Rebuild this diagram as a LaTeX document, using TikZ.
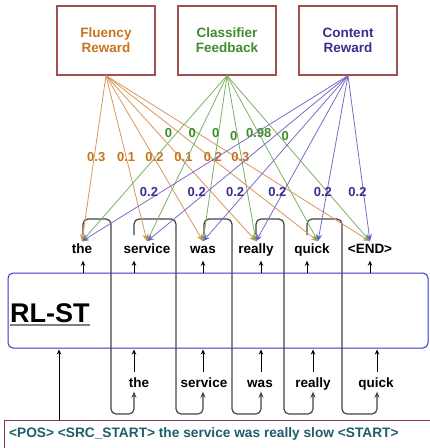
\documentclass[tikz,border=0pt]{standalone}
\usepackage{fontspec}
\setmainfont{Liberation Sans}
\usetikzlibrary{arrows.meta}

\definecolor{boxred}{HTML}{A0504F}
\definecolor{flcol}{HTML}{C8741E}
\definecolor{cfcol}{HTML}{3F8C2C}
\definecolor{crcol}{HTML}{3D2C8D}
\definecolor{flline}{HTML}{D8965A}
\definecolor{cfline}{HTML}{78B266}
\definecolor{crline}{HTML}{7A6CC6}
\definecolor{rlblue}{HTML}{3535D0}
\definecolor{inpcol}{HTML}{1F5C6C}
\definecolor{inpbox}{HTML}{8A3A5C}
\definecolor{loopgray}{HTML}{444444}

\tikzset{
  reward/.style={draw=boxred, line width=1.1pt, minimum width=98pt, minimum height=69pt,
    align=center, font=\bfseries\fontsize{13.5}{15}\selectfont},
  word/.style={font=\bfseries\fontsize{13.5}{15}\selectfont, inner sep=1.5pt,
    text height=10pt, text depth=3pt, anchor=base},
  wt/.style={font=\bfseries\fontsize{13}{15}\selectfont, inner sep=0pt},
  flarr/.style={draw=flline, line width=0.8pt, -{Stealth[length=7pt,width=6pt,fill=flcol]}},
  cfarr/.style={draw=cfline, line width=0.8pt, -{Stealth[length=7pt,width=6pt,fill=cfcol]}},
  crarr/.style={draw=crline, line width=0.8pt, -{Stealth[length=7pt,width=6pt,fill=crcol]}},
  loopline/.style={draw=loopgray, line width=1.2pt, rounded corners=5pt,
    -{Stealth[length=6pt,width=5pt]}},
  uparr/.style={line width=0.8pt, -{Stealth[length=5pt,width=4.5pt]}}
}

\begin{document}
\begin{tikzpicture}[x=1pt,y=-1pt]
\useasboundingbox (0,0) rectangle (430,448);

% reward boxes
\node[reward, text=flcol] (fl) at (106,40.5) {Fluency\\Reward};
\node[reward, text=cfcol] (cf) at (227,40.5) {Classifier\\Feedback};
\node[reward, text=crcol] (cr) at (348,40.5) {Content\\Reward};

% output words
\node[word] (o1) at (82,253) {the};
\node[word] (o2) at (147,253) {service};
\node[word] (o3) at (203,253) {was};
\node[word] (o4) at (256,253) {really};
\node[word] (o5) at (312,253) {quick};
\node[word] (o6) at (370,253) {<END>};

% model
\node[draw=rlblue, line width=1pt, rounded corners=5pt, minimum width=420pt,
  minimum height=75pt] (rlst) at (218,310.5) {};
\node[anchor=base west, inner sep=0pt, font=\bfseries\fontsize{27}{30}\selectfont]
  (rllabel) at (10,322) {RL-ST};
\draw[gray, line width=1.5pt] ([yshift=-2.5pt]rllabel.south west) -- ([yshift=-2.5pt]rllabel.south east);

% input words
\node[word] (i1) at (139,387) {the};
\node[word] (i2) at (204,387) {service};
\node[word] (i3) at (260,387) {was};
\node[word] (i4) at (313,387) {really};
\node[word] (i5) at (376,387) {quick};

% source input
\node[draw=inpbox, line width=1pt, minimum width=430pt, minimum height=32pt,
  anchor=north west] (inp) at (4,420) {};
\node[anchor=base west, inner sep=0pt, text=inpcol, font=\bfseries\fontsize{13.7}{15}\selectfont]
  (inptxt) at (9,437) {<POS> <SRC\_START> the service was really slow <START>};

% columns
\coordinate (u1) at (83,0);
\coordinate (u2) at (134,0);
\coordinate (u3) at (203,0);
\coordinate (u4) at (261,0);
\coordinate (u5) at (307,0);
\coordinate (u6) at (370,0);
\coordinate (b1) at (134,0);
\coordinate (b2) at (203,0);
\coordinate (b3) at (261,0);
\coordinate (b4) at (313,0);
\coordinate (b5) at (377,0);
\coordinate (l0) at (59,0);
\coordinate (s1) at (83,235);
\coordinate (s2) at (134,235);
\coordinate (s3) at (204,235);
\coordinate (s4) at (256,235);
\coordinate (s5) at (307,235);

% feedback loops
\draw[loopline] (s1) |- (111,219) -- (111,414) -| (i1.south -| b1);
\draw[loopline] (s2) |- (176,219) -- (176,414) -| (i2.south -| b2);
\draw[loopline] (s3) |- (232,219) -- (232,414) -| (i3.south -| b3);
\draw[loopline] (s4) |- (284,219) -- (284,414) -| (i4.south -| b4);
\draw[loopline] (s5) |- (342,219) -- (342,414) -| (i5.south -| b5);

% small arrows
\draw[uparr, shorten >=3pt] (rlst.north -| u1) -- (o1.south -| u1);
\draw[uparr, shorten >=3pt] (rlst.north -| u2) -- (o2.south -| u2);
\draw[uparr, shorten >=3pt] (rlst.north -| u3) -- (o3.south -| u3);
\draw[uparr, shorten >=3pt] (rlst.north -| u4) -- (o4.south -| u4);
\draw[uparr, shorten >=3pt] (rlst.north -| u5) -- (o5.south -| u5);
\draw[uparr, shorten >=3pt] (rlst.north -| u6) -- (o6.south -| u6);
\draw[uparr, shorten <=3pt, shorten >=1pt] (i1.north -| b1) -- (rlst.south -| b1);
\draw[uparr, shorten <=3pt, shorten >=1pt] (i2.north -| b2) -- (rlst.south -| b2);
\draw[uparr, shorten <=3pt, shorten >=1pt] (i3.north -| b3) -- (rlst.south -| b3);
\draw[uparr, shorten <=3pt, shorten >=1pt] (i4.north -| b4) -- (rlst.south -| b4);
\draw[uparr, shorten <=3pt, shorten >=1pt] (i5.north -| b5) -- (rlst.south -| b5);
\draw[uparr, shorten >=1pt] (inp.north -| l0) -- (rlst.south -| l0);

% fluency reward
\draw[flarr] (fl.south) -- node[wt, text=flcol, pos=0.49, xshift=2pt] {0.3} (o1.north);
\draw[flarr] (fl.south) -- node[wt, text=flcol, pos=0.49] {0.1} (o2.north);
\draw[flarr] (fl.south) -- node[wt, text=flcol, pos=0.49, xshift=1pt] {0.2} (o3.north);
\draw[flarr] (fl.south) -- node[wt, text=flcol, pos=0.49, xshift=4pt] {0.1} (o4.north);
\draw[flarr] (fl.south) -- node[wt, text=flcol, pos=0.49, xshift=3pt] {0.2} ([xshift=6pt]o5.north);
\draw[flarr] (fl.south) -- node[wt, text=flcol, pos=0.49, xshift=5pt] {0.3} (o6.north);

% classifier feedback
\draw[cfarr] (cf.south) -- node[wt, text=cfcol, pos=0.348, xshift=-8pt] {0} (o1.north);
\draw[cfarr] (cf.south) -- node[wt, text=cfcol, pos=0.348, xshift=-7pt] {0} (o2.north);
\draw[cfarr] (cf.south) -- node[wt, text=cfcol, pos=0.348, xshift=-3pt] {0} (o3.north);
\draw[cfarr] (cf.south) -- node[wt, text=cfcol, pos=0.366, xshift=-4pt] {0} (o4.north);
\draw[cfarr] (cf.south) -- node[wt, text=cfcol, pos=0.348] {0.98} ([xshift=6pt]o5.north);
\draw[cfarr] (cf.south) -- node[wt, text=cfcol, pos=0.366, xshift=6pt] {0} (o6.north);

% content reward
\draw[crarr] (cr.south) -- node[wt, text=crcol, pos=0.703, xshift=-12pt] {0.2} (o1.north);
\draw[crarr] (cr.south) -- node[wt, text=crcol, pos=0.703, xshift=-10pt] {0.2} (o2.north);
\draw[crarr] (cr.south) -- node[wt, text=crcol, pos=0.703, xshift=-11pt] {0.2} (o3.north);
\draw[crarr] (cr.south) -- node[wt, text=crcol, pos=0.703, xshift=-6pt] {0.2} (o4.north);
\draw[crarr] (cr.south) -- node[wt, text=crcol, pos=0.703, xshift=-4pt] {0.2} ([xshift=6pt]o5.north);
\draw[crarr] (cr.south) -- node[wt, text=crcol, pos=0.703, xshift=-6pt] {0.2} (o6.north);
\end{tikzpicture}
\end{document}
